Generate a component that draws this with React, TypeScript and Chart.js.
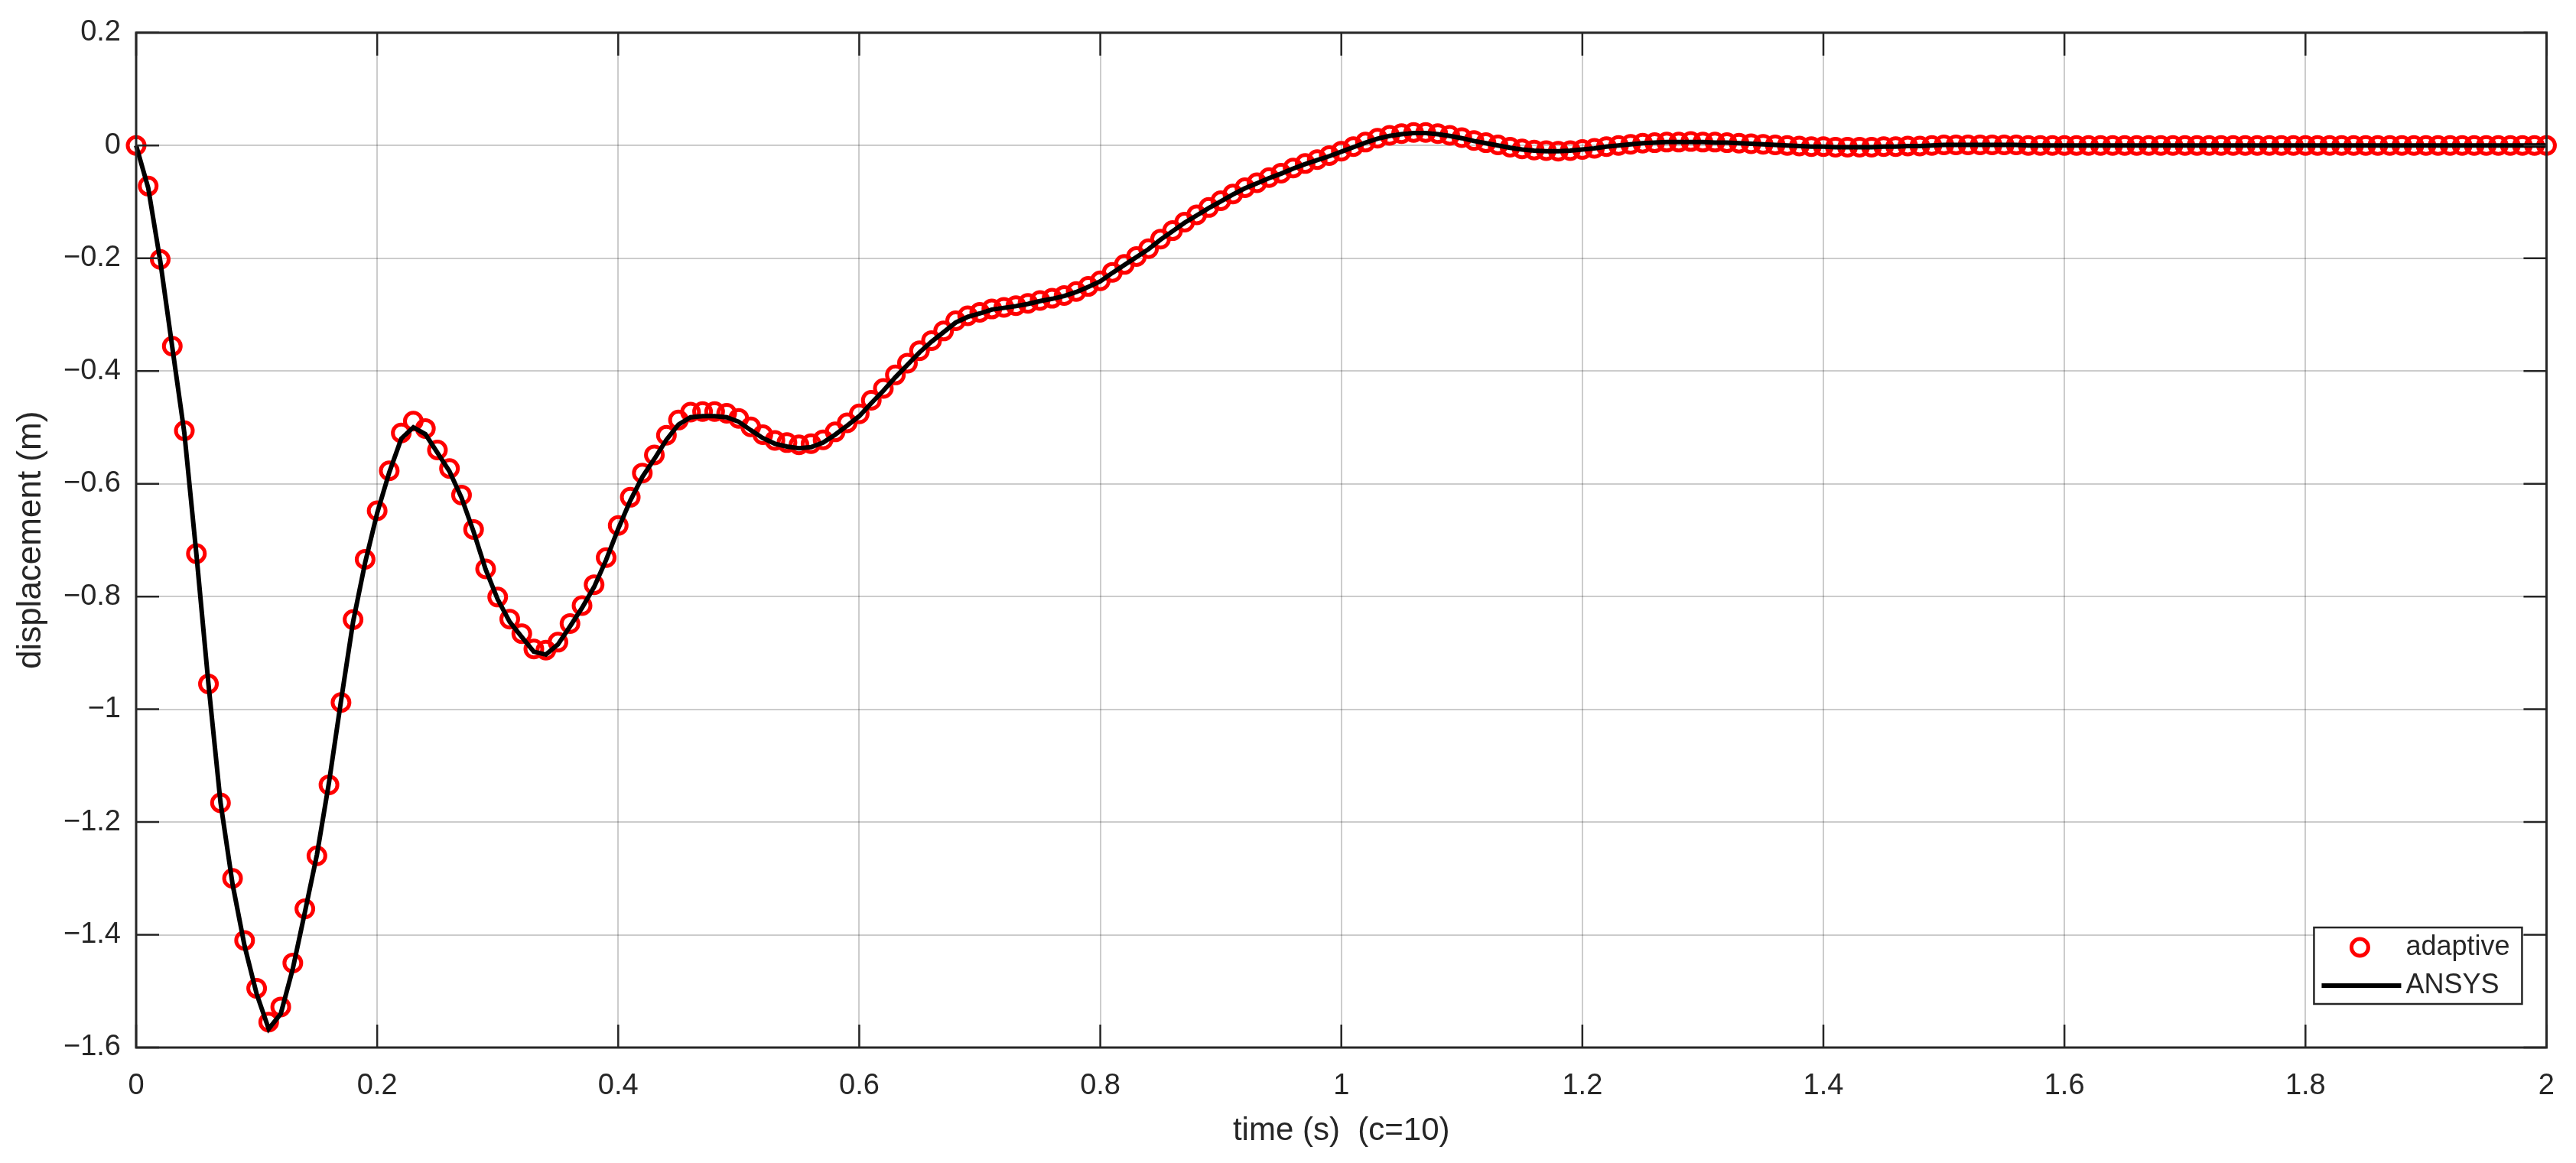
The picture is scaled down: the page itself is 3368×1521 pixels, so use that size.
import React, { useEffect, useRef } from 'react';
import { Chart, registerables } from 'chart.js';

Chart.register(...registerables);

const X_LABEL = 'time (s)  (c=10)';
const Y_LABEL = 'displacement (m)';
const SERIES_NAMES = ['adaptive', 'ANSYS'];
const X_RANGE = [0, 2];
const Y_RANGE = [-1.6, 0.2];
const TICK_STEP = 0.2;

const TIME = [
  0.00, 0.01, 0.02, 0.03, 0.04, 0.05, 0.06, 0.07, 0.08, 0.09,
  0.10, 0.11, 0.12, 0.13, 0.14, 0.15, 0.16, 0.17, 0.18, 0.19,
  0.20, 0.21, 0.22, 0.23, 0.24, 0.25, 0.26, 0.27, 0.28, 0.29,
  0.30, 0.31, 0.32, 0.33, 0.34, 0.35, 0.36, 0.37, 0.38, 0.39,
  0.40, 0.41, 0.42, 0.43, 0.44, 0.45, 0.46, 0.47, 0.48, 0.49,
  0.50, 0.51, 0.52, 0.53, 0.54, 0.55, 0.56, 0.57, 0.58, 0.59,
  0.60, 0.61, 0.62, 0.63, 0.64, 0.65, 0.66, 0.67, 0.68, 0.69,
  0.70, 0.71, 0.72, 0.73, 0.74, 0.75, 0.76, 0.77, 0.78, 0.79,
  0.80, 0.81, 0.82, 0.83, 0.84, 0.85, 0.86, 0.87, 0.88, 0.89,
  0.90, 0.91, 0.92, 0.93, 0.94, 0.95, 0.96, 0.97, 0.98, 0.99,
  1.00, 1.01, 1.02, 1.03, 1.04, 1.05, 1.06, 1.07, 1.08, 1.09,
  1.10, 1.11, 1.12, 1.13, 1.14, 1.15, 1.16, 1.17, 1.18, 1.19,
  1.20, 1.21, 1.22, 1.23, 1.24, 1.25, 1.26, 1.27, 1.28, 1.29,
  1.30, 1.31, 1.32, 1.33, 1.34, 1.35, 1.36, 1.37, 1.38, 1.39,
  1.40, 1.41, 1.42, 1.43, 1.44, 1.45, 1.46, 1.47, 1.48, 1.49,
  1.50, 1.51, 1.52, 1.53, 1.54, 1.55, 1.56, 1.57, 1.58, 1.59,
  1.60, 1.61, 1.62, 1.63, 1.64, 1.65, 1.66, 1.67, 1.68, 1.69,
  1.70, 1.71, 1.72, 1.73, 1.74, 1.75, 1.76, 1.77, 1.78, 1.79,
  1.80, 1.81, 1.82, 1.83, 1.84, 1.85, 1.86, 1.87, 1.88, 1.89,
  1.90, 1.91, 1.92, 1.93, 1.94, 1.95, 1.96, 1.97, 1.98, 1.99,
  2.00,
];

const ADAPTIVE = [
  0.000, -0.072, -0.202, -0.356, -0.506, -0.724, -0.955, -1.166, -1.300, -1.410,
  -1.495, -1.555, -1.528, -1.450, -1.354, -1.260, -1.134, -0.988, -0.841, -0.734,
  -0.648, -0.577, -0.510, -0.489, -0.502, -0.540, -0.573, -0.620, -0.681, -0.751,
  -0.801, -0.840, -0.866, -0.893, -0.895, -0.881, -0.848, -0.816, -0.779, -0.731,
  -0.674, -0.624, -0.581, -0.549, -0.514, -0.487, -0.473, -0.472, -0.472, -0.475,
  -0.484, -0.499, -0.513, -0.523, -0.527, -0.531, -0.529, -0.522, -0.508, -0.492,
  -0.476, -0.452, -0.431, -0.407, -0.386, -0.364, -0.346, -0.329, -0.311, -0.302,
  -0.296, -0.290, -0.287, -0.284, -0.280, -0.275, -0.271, -0.266, -0.259, -0.250,
  -0.240, -0.225, -0.211, -0.197, -0.183, -0.166, -0.151, -0.136, -0.123, -0.110,
  -0.098, -0.086, -0.075, -0.066, -0.057, -0.049, -0.040, -0.032, -0.025, -0.018,
  -0.010, -0.002, 0.006, 0.013, 0.018, 0.021, 0.023, 0.023, 0.021, 0.018,
  0.014, 0.009, 0.005, 0.001, -0.003, -0.006, -0.008, -0.009, -0.010, -0.009,
  -0.007, -0.005, -0.002, 0.000, 0.002, 0.004, 0.005, 0.006, 0.006, 0.007,
  0.006, 0.006, 0.005, 0.004, 0.003, 0.002, 0.001, 0.000, -0.001, -0.002,
  -0.002, -0.003, -0.003, -0.003, -0.003, -0.002, -0.002, -0.001, -0.001, 0.000,
  0.001, 0.001, 0.001, 0.001, 0.001, 0.001, 0.001, 0.000, 0.000, 0.000,
  0.000, 0.000, 0.000, 0.000, 0.000, 0.000, 0.000, 0.000, 0.000, 0.000,
  0.000, 0.000, 0.000, 0.000, 0.000, 0.000, 0.000, 0.000, 0.000, 0.000,
  0.000, 0.000, 0.000, 0.000, 0.000, 0.000, 0.000, 0.000, 0.000, 0.000,
  0.000, 0.000, 0.000, 0.000, 0.000, 0.000, 0.000, 0.000, 0.000, 0.000,
  0.000,
];

const ANSYS = [
  0.000, -0.075, -0.205, -0.358, -0.510, -0.725, -0.955, -1.165, -1.310, -1.420,
  -1.505, -1.567, -1.540, -1.460, -1.360, -1.258, -1.130, -0.985, -0.845, -0.740,
  -0.652, -0.580, -0.520, -0.500, -0.512, -0.545, -0.578, -0.625, -0.685, -0.752,
  -0.805, -0.845, -0.872, -0.898, -0.903, -0.885, -0.853, -0.820, -0.783, -0.735,
  -0.680, -0.630, -0.588, -0.556, -0.522, -0.495, -0.482, -0.480, -0.480, -0.482,
  -0.490, -0.505, -0.519, -0.529, -0.534, -0.537, -0.535, -0.527, -0.513, -0.497,
  -0.480, -0.457, -0.435, -0.411, -0.389, -0.367, -0.348, -0.331, -0.314, -0.304,
  -0.298, -0.291, -0.288, -0.285, -0.281, -0.276, -0.272, -0.267, -0.260, -0.251,
  -0.241, -0.226, -0.212, -0.198, -0.184, -0.167, -0.152, -0.137, -0.124, -0.111,
  -0.099, -0.087, -0.076, -0.067, -0.058, -0.050, -0.041, -0.033, -0.026, -0.019,
  -0.011, -0.003, 0.005, 0.012, 0.017, 0.020, 0.022, 0.022, 0.020, 0.017,
  0.013, 0.008, 0.004, 0.000, -0.004, -0.007, -0.009, -0.010, -0.010, -0.009,
  -0.007, -0.005, -0.002, 0.000, 0.002, 0.004, 0.005, 0.006, 0.006, 0.006,
  0.006, 0.005, 0.005, 0.004, 0.003, 0.002, 0.001, 0.000, -0.001, -0.002,
  -0.002, -0.003, -0.003, -0.003, -0.003, -0.002, -0.002, -0.001, -0.001, 0.000,
  0.001, 0.001, 0.001, 0.001, 0.001, 0.001, 0.001, 0.000, 0.000, 0.000,
  0.000, 0.000, 0.000, 0.000, 0.000, 0.000, 0.000, 0.000, 0.000, 0.000,
  0.000, 0.000, 0.000, 0.000, 0.000, 0.000, 0.000, 0.000, 0.000, 0.000,
  0.000, 0.000, 0.000, 0.000, 0.000, 0.000, 0.000, 0.000, 0.000, 0.000,
  0.000, 0.000, 0.000, 0.000, 0.000, 0.000, 0.000, 0.000, 0.000, 0.000,
  0.000,
];

const FONT = "'Liberation Sans', Arial, Helvetica, sans-serif";
const AXIS_COLOR = '#262626';
const RED = '#ff0000';

const fmt = (v: number) => {
  const r = Math.round(v * 10) / 10;
  if (r === 0) return '0';
  return String(r).replace('-', '\u2212');
};

const framePlugin = {
  id: 'matlabFrame',
  afterDraw(chart: any) {
    const { ctx, chartArea: a, scales } = chart;
    ctx.save();
    // inward tick marks
    ctx.strokeStyle = AXIS_COLOR;
    ctx.lineWidth = 2.5;
    const tl = 30;
    ctx.beginPath();
    scales.x.ticks.forEach((t: any) => {
      const px = scales.x.getPixelForValue(t.value);
      ctx.moveTo(px, a.bottom);
      ctx.lineTo(px, a.bottom - tl);
      ctx.moveTo(px, a.top);
      ctx.lineTo(px, a.top + tl);
    });
    scales.y.ticks.forEach((t: any) => {
      const py = scales.y.getPixelForValue(t.value);
      ctx.moveTo(a.left, py);
      ctx.lineTo(a.left + tl, py);
      ctx.moveTo(a.right, py);
      ctx.lineTo(a.right - tl, py);
    });
    ctx.stroke();
    // box
    ctx.lineWidth = 3;
    ctx.strokeRect(a.left, a.top, a.right - a.left, a.bottom - a.top);

    // legend
    const lw = 272;
    const lh = 100;
    const lx = a.right - 32 - lw;
    const ly = a.bottom - 57 - lh;
    ctx.fillStyle = '#ffffff';
    ctx.fillRect(lx, ly, lw, lh);
    ctx.strokeStyle = AXIS_COLOR;
    ctx.lineWidth = 2.5;
    ctx.strokeRect(lx, ly, lw, lh);
    const row1 = ly + 26;
    const row2 = ly + 76;
    ctx.strokeStyle = RED;
    ctx.lineWidth = 5;
    ctx.beginPath();
    ctx.arc(lx + 60, row1, 11, 0, Math.PI * 2);
    ctx.stroke();
    ctx.strokeStyle = '#000000';
    ctx.lineWidth = 6;
    ctx.beginPath();
    ctx.moveTo(lx + 10, row2);
    ctx.lineTo(lx + 114, row2);
    ctx.stroke();
    ctx.fillStyle = AXIS_COLOR;
    ctx.font = `36px ${FONT}`;
    ctx.textBaseline = 'middle';
    ctx.textAlign = 'left';
    ctx.fillText(SERIES_NAMES[0], lx + 120, row1);
    ctx.fillText(SERIES_NAMES[1], lx + 120, row2);
    ctx.restore();
  },
};

export default function App() {
  const ref = useRef<HTMLCanvasElement | null>(null);

  useEffect(() => {
    document.body.style.margin = '0';
    document.body.style.overflow = 'hidden';
    const canvas = ref.current;
    if (!canvas) return;
    const adaptivePts = TIME.map((t, i) => ({ x: t, y: ADAPTIVE[i] }));
    const ansysPts = TIME.map((t, i) => ({ x: t, y: ANSYS[i] }));
    const chart = new Chart(canvas, {
      type: 'line',
      data: {
        datasets: [
          {
            label: SERIES_NAMES[0],
            data: adaptivePts,
            showLine: false,
            pointStyle: 'circle',
            pointRadius: 11,
            pointBorderWidth: 5,
            pointBorderColor: RED,
            pointBackgroundColor: 'rgba(0,0,0,0)',
            borderColor: RED,
            backgroundColor: 'rgba(0,0,0,0)',
            order: 2,
            clip: false as any,
          },
          {
            label: SERIES_NAMES[1],
            data: ansysPts,
            borderColor: '#000000',
            borderWidth: 6,
            pointRadius: 0,
            tension: 0,
            fill: false,
            order: 1,
            clip: false as any,
          },
        ],
      },
      options: {
        animation: false,
        responsive: false,
        devicePixelRatio: 1,
        events: [],
        layout: { padding: { left: 0, top: 30, right: 31, bottom: 0 } },
        plugins: {
          legend: { display: false },
          tooltip: { enabled: false },
        },
        scales: {
          x: {
            type: 'linear',
            min: X_RANGE[0],
            max: X_RANGE[1],
            afterFit: (s: any) => { s.height = 151; },
            ticks: {
              stepSize: TICK_STEP,
              padding: 28,
              color: AXIS_COLOR,
              font: { family: FONT, size: 38 },
              callback: (v: any) => fmt(Number(v)),
              maxRotation: 0,
              autoSkip: false,
            },
            grid: {
              color: 'rgba(0,0,0,0.2)',
              lineWidth: 2,
              drawTicks: false,
            },
            border: { display: false },
            title: {
              display: true,
              text: X_LABEL,
              color: AXIS_COLOR,
              font: { family: FONT, size: 42 },
              padding: { top: 0, bottom: 16 },
            },
          },
          y: {
            type: 'linear',
            min: Y_RANGE[0],
            max: Y_RANGE[1],
            afterFit: (s: any) => { s.width = 178; },
            ticks: {
              stepSize: TICK_STEP,
              padding: 20,
              color: AXIS_COLOR,
              font: { family: FONT, size: 38 },
              callback: (v: any) => fmt(Number(v)),
              autoSkip: false,
            },
            grid: {
              color: 'rgba(0,0,0,0.2)',
              lineWidth: 2,
              drawTicks: false,
            },
            border: { display: false },
            title: {
              display: true,
              text: Y_LABEL,
              color: AXIS_COLOR,
              font: { family: FONT, size: 44 },
              padding: { top: 14, bottom: 0 },
            },
          },
        },
      },
      plugins: [framePlugin],
    });
    return () => chart.destroy();
  }, []);

  return (
    <canvas
      ref={ref}
      width={3368}
      height={1521}
      style={{ display: 'block', width: '3368px', height: '1521px' }}
    />
  );
}
